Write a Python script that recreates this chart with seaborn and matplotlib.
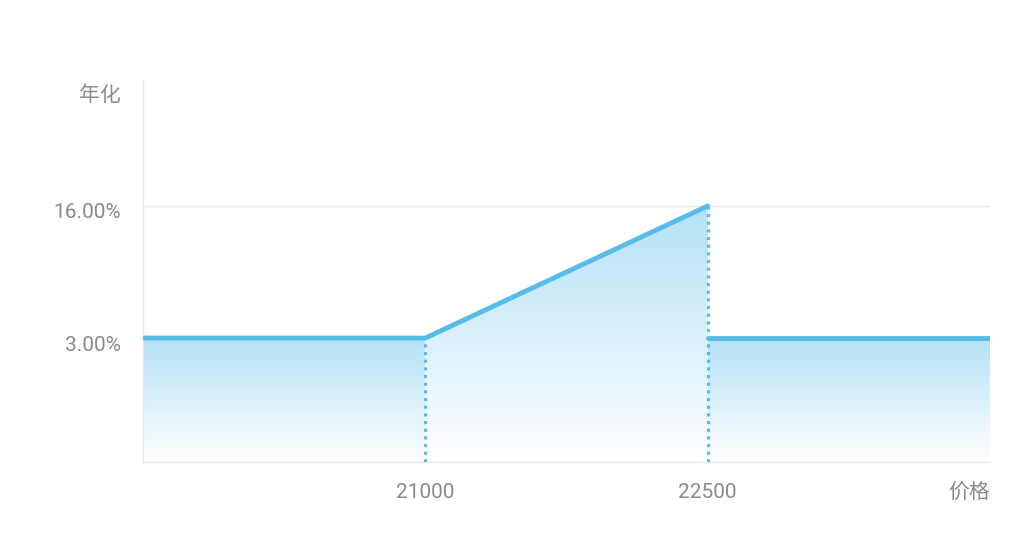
import numpy as np
import pandas as pd
import matplotlib
matplotlib.use('Agg')
import matplotlib.pyplot as plt
import matplotlib.transforms as mtransforms
import seaborn as sns
from matplotlib.colors import LinearSegmentedColormap

# data
price = [19500, 21000, 22500, 22500, 24000]
rate = [3, 3, 16, 3, 3]
segment = [0, 0, 0, 1, 1]
drop_x = [21000, 22500]
drop_y = [3, 16]
x_ticks = [21000, 22500, 24000]
x_labels = ['21000', '22500', '价格']
y_ticks = [3, 16]
y_labels = ['3.00%', '16.00%']
y_title = '年化'

line_color = '#57bde8'
text_color = '#8a8a8a'
grid_color = '#e9e9e9'

sns.set_theme(style='white')
plt.rcParams['font.family'] = ['Roboto', 'Noto Sans CJK SC', 'DejaVu Sans']

df = pd.DataFrame({'price': price, 'rate': rate, 'segment': segment})

fig = plt.figure(figsize=(10.24, 5.44), dpi=100)
ax = fig.add_axes([143 / 1024, 1 - 462 / 544, (990 - 143) / 1024, (462 - 80) / 544])

ymin, ymax = -9.2, 28.4
ax.set_xlim(19500, 24000)
ax.set_ylim(ymin, ymax)

# gradient fill, one piece per segment
cmap = LinearSegmentedColormap.from_list('g', ['#ffffff', '#b4e1f6'])
grad = np.linspace(0, 1, 256).reshape(-1, 1)
for i in range(len(price) - 1):
    x0, x1 = price[i], price[i + 1]
    if x0 == x1:
        continue
    y0, y1 = rate[i], rate[i + 1]
    poly = ax.fill_between([x0, x1], [y0, y1], ymin, color='none', lw=0)
    top = max(y0, y1)
    im = ax.imshow(grad, cmap=cmap, aspect='auto', origin='lower',
                   extent=[x0, x1, ymin, top], zorder=1, interpolation='bicubic')
    im.set_clip_path(poly.get_paths()[0], transform=ax.transData)

# dotted drops
for xv, yv in zip(drop_x, drop_y):
    ax.plot([xv, xv], [ymin, yv], color=line_color, lw=2.3,
            linestyle=(0, (1, 1.4)), zorder=3)

sns.lineplot(data=df, x='price', y='rate', units='segment', sort=False,
             estimator=None, color=line_color, lw=3.5, ax=ax, zorder=4)

ax.set_xticks(x_ticks)
ax.set_xticklabels(x_labels)
ax.get_xticklabels()[-1].set_ha('right')
ax.set_yticks(y_ticks)
ax.set_yticklabels(y_labels)
ax.tick_params(axis='both', length=0, labelsize=15, colors=text_color)
ax.tick_params(axis='y', pad=16)
ax.tick_params(axis='x', pad=15)
ax.set_xlabel('')
ax.set_ylabel('')
ax.grid(axis='y', color=grid_color, lw=1)
ax.set_axisbelow(True)

# y labels sit a little below their grid line
shift = mtransforms.ScaledTranslation(0, -5 / 100, fig.dpi_scale_trans)
for lab in ax.get_yticklabels():
    lab.set_transform(lab.get_transform() + shift)

for s in ['top', 'right']:
    ax.spines[s].set_visible(False)
for s in ['left', 'bottom']:
    ax.spines[s].set_color(grid_color)
    ax.spines[s].set_linewidth(1)

ax.text(-22 / 847, 1 - 15 / 382, y_title, transform=ax.transAxes,
        ha='right', va='center', fontsize=15, color=text_color)

fig.savefig('out.png', dpi=100, facecolor='white')
